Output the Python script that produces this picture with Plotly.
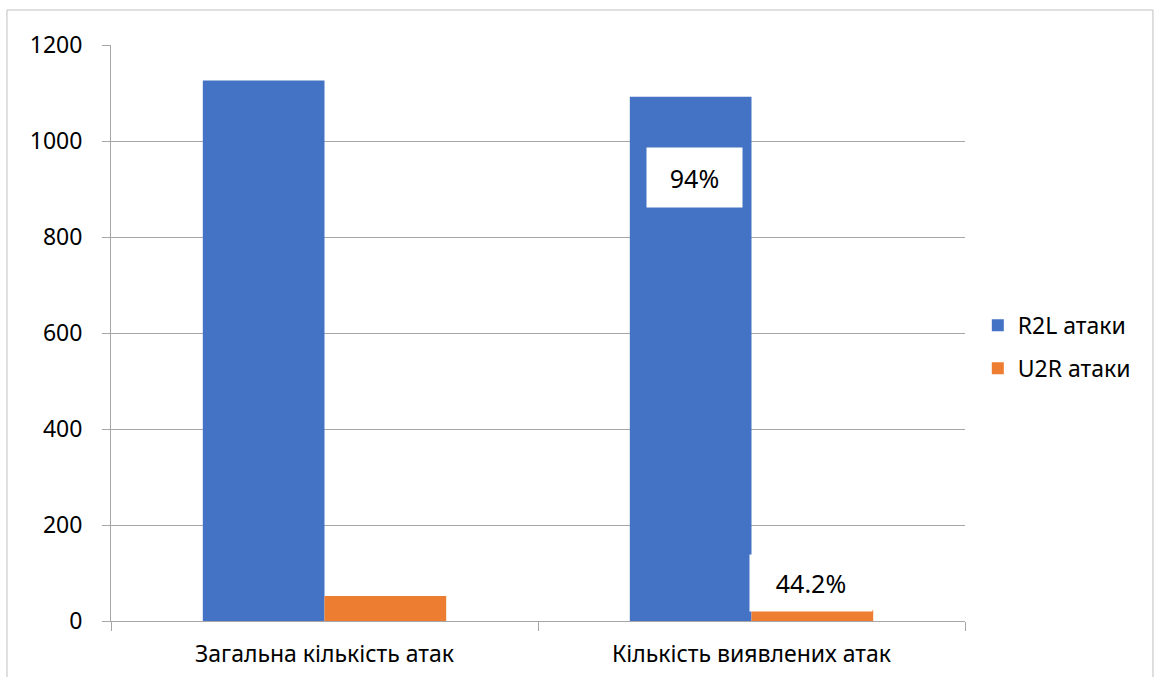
import plotly.graph_objects as go

# Attack counts per category
categories = ["Загальна кількість атак", "Кількість виявлених атак"]
r2l_values = [1126, 1092]
u2r_values = [52, 23]
series_names = ["R2L атаки", "U2R атаки"]
detection_labels = ["94%", "44.2%"]

BLUE = "#4472C4"
ORANGE = "#ED7D31"
GRID = "#A6A6A6"
FONT = "Noto Sans"

fig = go.Figure()
fig.add_trace(go.Bar(x=categories, y=r2l_values, name=series_names[0],
                     marker=dict(color=BLUE, line=dict(width=0)),
                     legendgroup="a"))
fig.add_trace(go.Bar(x=categories, y=u2r_values, name=series_names[1],
                     marker=dict(color=ORANGE, line=dict(width=0)),
                     legendgroup="b"))

# Detection rate labels on white boxes
fig.add_annotation(x=categories[1], y=925, xref="x", yref="y", xshift=-57,
                   text=detection_labels[0], showarrow=False,
                   bgcolor="white", width=93, height=57,
                   font=dict(family=FONT, size=25, color="black"))
fig.add_annotation(x=categories[1], y=79, xref="x", yref="y", xshift=59,
                   text=detection_labels[1], showarrow=False,
                   bgcolor="white", width=120, height=54,
                   font=dict(family=FONT, size=25, color="black"))

# Outer chart border
fig.add_shape(type="rect", xref="paper", yref="paper",
              x0=-0.1218, x1=1.2201, y0=-0.2, y1=1.0608,
              line=dict(color="#BFBFBF", width=1), layer="below")

fig.update_layout(
    width=1160, height=677,
    margin=dict(l=111, r=195, t=45, b=56),
    paper_bgcolor="white", plot_bgcolor="white",
    barmode="group", bargap=0.43, bargroupgap=0,
    font=dict(family=FONT, size=22, color="black"),
    legend=dict(x=1.015, y=0.476, xanchor="left", yanchor="middle",
                font=dict(family=FONT, size=23, color="black"),
                traceorder="grouped", tracegroupgap=10,
                bgcolor="rgba(0,0,0,0)"),
    showlegend=True,
)
fig.update_yaxes(range=[0, 1200], dtick=200, showgrid=True, gridcolor=GRID,
                 gridwidth=1, showline=True, linecolor=GRID, linewidth=1,
                 ticks="outside", ticklen=8, tickcolor=GRID,
                 ticklabelstandoff=15, zeroline=False, automargin=False,
                 tickfont=dict(family=FONT, size=23, color="black"))
fig.update_xaxes(showline=True, linecolor=GRID, linewidth=1,
                 ticks="outside", tickson="boundaries", ticklen=9,
                 tickcolor=GRID, showgrid=False, ticklabelstandoff=12,
                 automargin=False,
                 tickfont=dict(family=FONT, size=23, color="black"))

fig.write_html("out.html")
